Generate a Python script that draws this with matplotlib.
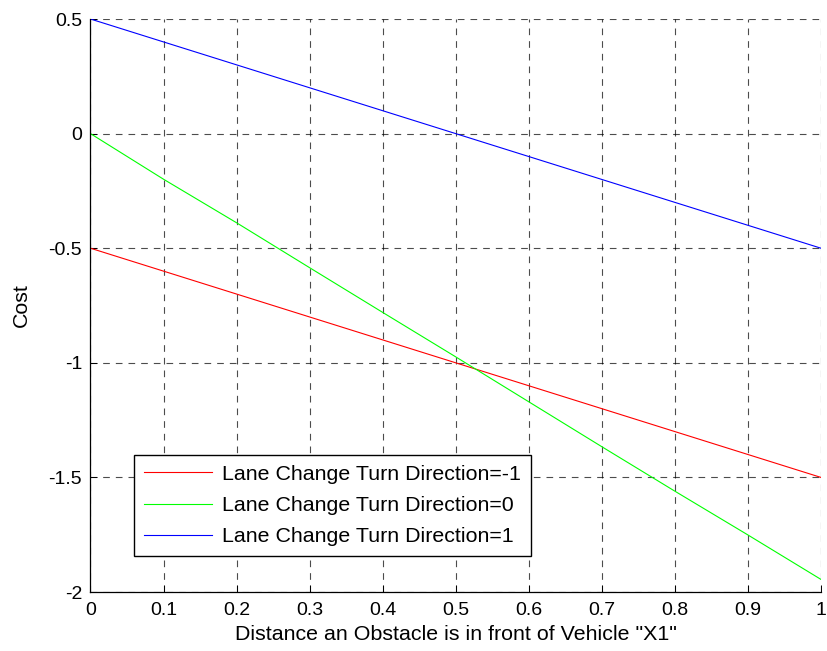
import matplotlib
matplotlib.use('agg')
import matplotlib.pyplot as plt

plt.rcParams['font.family'] = ['Liberation Sans', 'DejaVu Sans']

# values
dist = [0.0, 0.1, 0.2, 0.3, 0.4, 0.5, 0.6, 0.7, 0.8, 0.9, 1.0]
cost_left = [-0.5, -0.6, -0.7, -0.8, -0.9, -1.0, -1.1, -1.2, -1.3, -1.4, -1.5]
cost_straight = [0.0, -0.199, -0.389, -0.585, -0.78, -0.974, -1.17, -1.366, -1.56, -1.751, -1.945]
cost_right = [0.5, 0.4, 0.3, 0.2, 0.1, 0.0, -0.1, -0.2, -0.3, -0.4, -0.5]
labels = ['Lane Change Turn Direction=-1', 'Lane Change Turn Direction=0',
          'Lane Change Turn Direction=1']

tick_fs = 14
text_fs = 15.4

fig = plt.figure(figsize=(8.27, 6.51), dpi=100)
ax = fig.add_axes([0.1094, 0.0906, 0.8833, 0.8802])

ax.plot(dist, cost_left, color=(1, 0, 0), lw=0.8, label=labels[0])
ax.plot(dist, cost_straight, color=(0, 1, 0), lw=0.8, label=labels[1])
ax.plot(dist, cost_right, color=(0, 0, 1), lw=0.8, label=labels[2])

ax.set_xlim(0, 1)
ax.set_ylim(-2, 0.5)
ax.set_xticks([i / 10 for i in range(11)])
ax.set_xticklabels(['0', '0.1', '0.2', '0.3', '0.4', '0.5', '0.6', '0.7', '0.8', '0.9', '1'])
ax.set_yticks([-2, -1.5, -1, -0.5, 0, 0.5])
ax.set_yticklabels(['-2', '-1.5', '-1', '-0.5', '0', '0.5'])
ax.tick_params(direction='in', length=5, width=0.7, labelsize=tick_fs)
ax.tick_params(axis='x', pad=7.5)
ax.tick_params(axis='y', pad=6)
ax.grid(True, color='black', linestyle=(0, (6, 5.4)), linewidth=0.8, alpha=0.7)

ax.spines['top'].set_visible(False)
ax.spines['right'].set_visible(False)
ax.spines['left'].set_linewidth(0.9)
ax.spines['bottom'].set_linewidth(0.9)

ax.set_xlabel('Distance an Obstacle is in front of Vehicle "X1"', fontsize=text_fs, labelpad=4)
ax.set_ylabel('Cost', fontsize=text_fs, labelpad=12.5)

leg = ax.legend(loc='lower left', bbox_to_anchor=(0.0595, 0.062), fontsize=text_fs,
                frameon=True, fancybox=False, edgecolor='black', framealpha=1,
                handlelength=3.2, handletextpad=0.47, labelspacing=0.58,
                borderpad=0.47, borderaxespad=0)
leg.get_frame().set_linewidth(1.0)

fig.savefig('out.png', dpi=100, facecolor='white')
